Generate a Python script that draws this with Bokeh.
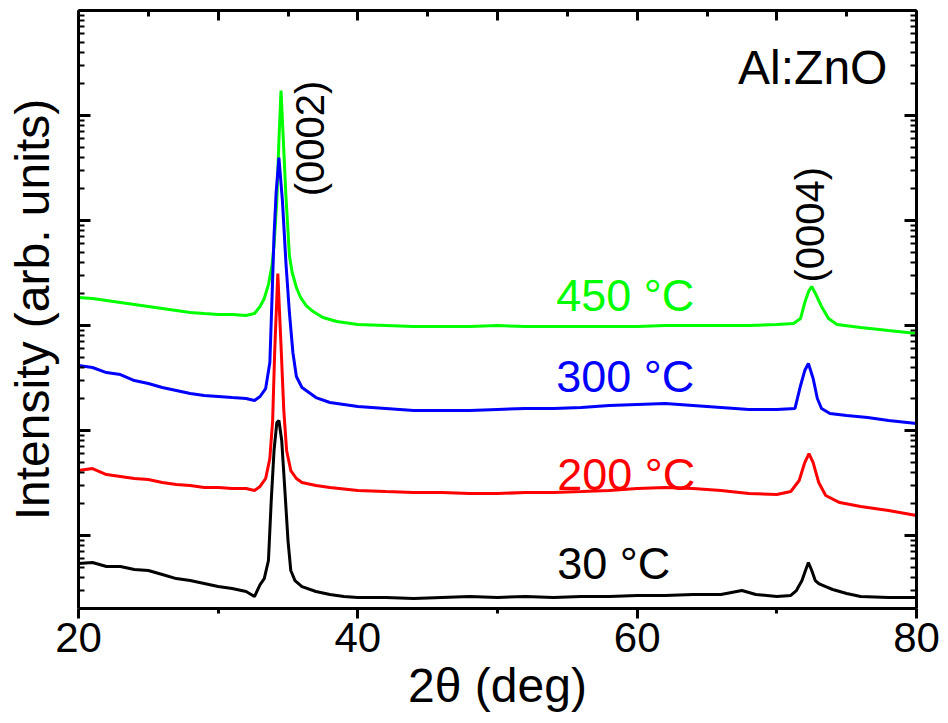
import numpy as np
from bokeh.plotting import figure
from bokeh.models import Range1d, FixedTicker, LinearAxis, LogAxis, CustomJSTickFormatter
from bokeh.core.properties import value
from bokeh.embed import file_html
from bokeh.resources import INLINE

FONT = "Liberation Sans"

# ---- data: 2theta (deg) and log10 intensity (arb. units) ----
x_30 = [20, 21, 22, 23, 24, 25, 26, 27, 28, 29, 30, 31, 32,
        32.6, 33.0, 33.3, 33.6, 33.8, 34.0, 34.2, 34.35, 34.55, 34.8, 35.0, 35.2, 35.5, 36.0,
        37, 38, 39,
        40, 42, 44, 46, 48, 50, 52, 54, 56, 58, 60, 62, 64, 66,
        67.5, 68.5, 70, 71,
        71.4, 71.8, 72.05, 72.26, 72.5, 72.75, 73.0, 73.5, 74.0, 75, 76, 78, 80]
log_30 = [0.733, 0.743, 0.705, 0.705, 0.676, 0.667, 0.629, 0.590, 0.571, 0.543, 0.514, 0.495, 0.467,
          0.419, 0.533, 0.590, 0.762, 1.333, 1.810, 2.076, 2.095, 1.905, 1.381, 0.952, 0.667, 0.571, 0.514,
          0.467, 0.438, 0.419,
          0.410, 0.410, 0.400, 0.410, 0.419, 0.410, 0.419, 0.410, 0.419, 0.419, 0.429, 0.429, 0.438, 0.438,
          0.476, 0.438, 0.419, 0.429,
          0.476, 0.571, 0.667, 0.743, 0.667, 0.571, 0.543, 0.514, 0.486, 0.448, 0.419, 0.410, 0.410]

x_200 = [20, 21, 22, 23, 24, 25, 26, 27, 28, 29, 30, 31, 32,
         32.6, 33.0, 33.4, 33.7, 33.9, 34.05, 34.27, 34.5, 34.7, 34.9, 35.2, 35.6, 36.0,
         37, 38,
         40, 42, 44, 46, 48, 50, 52, 54, 56, 58, 60, 62, 64, 66, 68, 70,
         71, 71.6, 72.0, 72.3, 72.6, 73.0, 73.5, 74.5, 76, 78, 80]
log_200 = [1.619, 1.638, 1.581, 1.562, 1.543, 1.533, 1.505, 1.486, 1.476, 1.457, 1.457, 1.448, 1.448,
           1.429, 1.467, 1.543, 1.733, 2.095, 2.762, 3.495, 2.810, 2.190, 1.810, 1.619, 1.543, 1.505,
           1.476, 1.457,
           1.429, 1.419, 1.410, 1.410, 1.400, 1.400, 1.410, 1.410, 1.419, 1.429, 1.448, 1.457, 1.448, 1.429, 1.400, 1.390,
           1.419, 1.524, 1.695, 1.781, 1.695, 1.505, 1.381, 1.314, 1.276, 1.238, 1.190]

x_300 = [20, 21, 22, 23, 24, 25, 26, 27, 28, 29, 30, 31, 32,
         32.6, 33.0, 33.4, 33.7, 33.85, 34.0, 34.15, 34.35, 34.6, 34.85, 35.1, 35.35, 35.6, 36.0, 36.5,
         37, 38,
         40, 42, 44, 46, 48, 50, 52, 54, 56, 58, 60, 62, 64, 66, 68, 70,
         71.3, 71.7, 72.0, 72.26, 72.6, 72.9, 73.2, 73.8, 75, 76.5, 78, 80]
log_300 = [2.619, 2.600, 2.552, 2.533, 2.476, 2.448, 2.410, 2.381, 2.352, 2.333, 2.324, 2.314, 2.305,
           2.286, 2.324, 2.400, 2.648, 3.238, 3.857, 4.267, 4.600, 4.190, 3.600, 3.124, 2.743, 2.514, 2.410, 2.362,
           2.314, 2.267,
           2.229, 2.210, 2.190, 2.190, 2.190, 2.200, 2.210, 2.210, 2.219, 2.238, 2.248, 2.257, 2.238, 2.219, 2.200, 2.200,
           2.210, 2.429, 2.571, 2.638, 2.495, 2.305, 2.210, 2.162, 2.143, 2.124, 2.095, 2.067]

x_450 = [20, 21, 22, 23, 24, 25, 26, 27, 28, 29, 30, 31, 32,
         32.6, 33.0, 33.3, 33.6, 33.85, 34.0, 34.2, 34.35, 34.5, 34.65, 34.85, 35.1, 35.3, 35.6, 35.9, 36.3, 36.8, 37.5,
         38.5, 40,
         42, 44, 46, 48, 50, 52, 54, 56, 58, 60, 62, 64, 66, 68, 70,
         71.2, 71.7, 72.0, 72.3, 72.5, 72.8, 73.2, 73.7, 74.3, 76, 78, 80]
log_450 = [3.267, 3.257, 3.238, 3.219, 3.200, 3.181, 3.162, 3.143, 3.124, 3.114, 3.105, 3.105, 3.095,
           3.114, 3.181, 3.257, 3.390, 3.571, 3.762, 4.190, 4.762, 5.238, 4.810, 4.238, 3.667, 3.505, 3.362, 3.267, 3.190, 3.133, 3.076,
           3.038, 3.010,
           3.000, 2.990, 2.990, 2.990, 3.000, 2.990, 2.990, 2.990, 2.990, 2.990, 3.000, 3.000, 3.000, 3.000, 3.010,
           3.019, 3.067, 3.219, 3.333, 3.371, 3.295, 3.181, 3.067, 3.010, 2.981, 2.952, 2.924]

series_names = ["450 °C", "300 °C", "200 °C", "30 °C"]
series_x = [x_450, x_300, x_200, x_30]
series_log = [log_450, log_300, log_200, log_30]
series_colors = ["#00ff00", "#0000ff", "#ff0000", "#000000"]

x_ticks = [20, 40, 60, 80]
x_minor_ticks = [30, 50, 70]

# label placement (annotations)
label_x = [54.2, 54.2, 54.27, 54.27]
label_log_y = [3.29, 2.51, 1.58, 0.73]
peak_labels = ["(0002)", "(0004)"]
peak_x = [36.55, 72.4]
peak_log_y = [4.781, 3.96]
sample_label = "Al:ZnO"

for xs, ls in zip(series_x, series_log):
    assert len(xs) == len(ls), (len(xs), len(ls))

p = figure(width=940, height=716, x_range=Range1d(20, 80), y_range=Range1d(10 ** 0.305, 10 ** 6.0),
           y_axis_type="log", output_backend="svg", toolbar_location=None,
           min_border_left=78, min_border_right=24, min_border_top=10, min_border_bottom=108)
p.outline_line_color = None
p.xgrid.visible = False
p.ygrid.visible = False
p.background_fill_color = "white"
p.border_fill_color = "white"

for xs, ls, c in zip(series_x, series_log, series_colors):
    p.line(xs, list(10 ** np.array(ls)), line_color=c, line_width=3)

empty = CustomJSTickFormatter(code="return ''")
y_major = [10.0 ** n for n in range(0, 7)]
y_minor = [k * 10.0 ** n for n in range(0, 6) for k in range(2, 10)]


def style_axis(ax):
    ax.axis_line_color = "black"
    ax.major_tick_line_color = "black"
    ax.minor_tick_line_color = "black"
    ax.axis_label_text_color = "black"
    ax.major_label_text_color = "black"
    ax.axis_line_width = 3
    ax.major_tick_line_width = 3


# bottom axis
xa = p.xaxis[0]
style_axis(xa)
xa.ticker = FixedTicker(ticks=x_ticks, minor_ticks=x_minor_ticks)
xa.axis_label = "2θ (deg)"
xa.axis_label_text_font = FONT
xa.axis_label_text_font_size = "48px"
xa.axis_label_text_font_style = "normal"
xa.axis_label_standoff = 4
xa.major_label_text_font = FONT
xa.major_label_text_font_size = "42px"
xa.major_label_standoff = 4
xa.major_tick_in = 0
xa.major_tick_out = 10
xa.minor_tick_in = 0
xa.minor_tick_out = 5
xa.minor_tick_line_width = 3

# left axis
ya = p.yaxis[0]
style_axis(ya)
ya.ticker = FixedTicker(ticks=y_major, minor_ticks=y_minor)
ya.formatter = empty
ya.axis_label = "Intensity (arb. units)"
ya.axis_label_text_font = FONT
ya.axis_label_text_font_size = "48px"
ya.axis_label_text_font_style = "normal"
ya.axis_label_standoff = 20
ya.major_label_standoff = 0
ya.major_tick_in = 12
ya.major_tick_out = 0
ya.minor_tick_in = 6
ya.minor_tick_out = 0
ya.minor_tick_line_width = 2

# right axis
ra = LogAxis(ticker=FixedTicker(ticks=y_major, minor_ticks=y_minor), formatter=empty,
             major_tick_in=12, major_tick_out=0, minor_tick_in=6, minor_tick_out=0,
             major_label_standoff=0)
style_axis(ra)
ra.minor_tick_line_width = 2
p.add_layout(ra, "right")

# top axis
ta = LinearAxis(ticker=FixedTicker(ticks=[20, 30, 40, 50, 60, 70, 80], minor_ticks=[25, 35, 45, 55, 65, 75]),
                formatter=empty, major_tick_in=10, major_tick_out=0, minor_tick_in=6, minor_tick_out=0,
                major_label_standoff=0)
style_axis(ta)
ta.minor_tick_line_width = 3
p.add_layout(ta, "above")

# temperature labels
p.text(x=label_x, y=list(10 ** np.array(label_log_y)), text=series_names, text_color=series_colors,
       text_font=value(FONT), text_font_size="45px", text_align="left", text_baseline="alphabetic")

# peak labels
p.text(x=peak_x, y=list(10 ** np.array(peak_log_y)), text=peak_labels, angle=np.pi / 2,
       text_color="black", text_font=value(FONT), text_font_size="40px",
       text_align="center", text_baseline="middle")

# sample label
p.text(x=[77.92], y=[10 ** 5.455], text=[sample_label], text_color="black", text_font=value(FONT),
       text_font_size="48px", text_align="right", text_baseline="alphabetic")

open("out.html", "w").write(file_html(p, INLINE))
